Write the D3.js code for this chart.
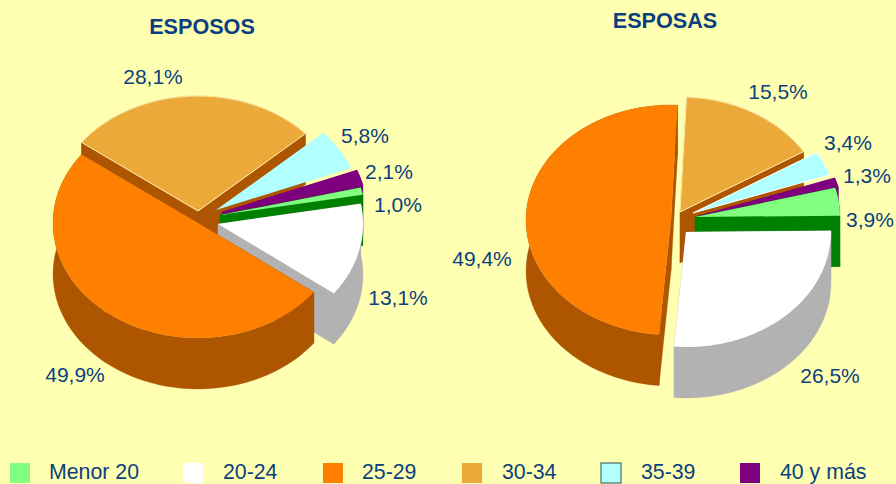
<!DOCTYPE html>
<html>
<head>
<meta charset="utf-8">
<script src="https://cdn.jsdelivr.net/npm/d3@7"></script>
<style>
  html, body { margin: 0; padding: 0; background: #FFFFB2; }
  svg { display: block; }
  text { font-family: "Liberation Sans", Arial, sans-serif; fill: #0B3F7F; }
</style>
</head>
<body>
<svg id="chart"></svg>
<script>
const categories = ['Menor 20', '20-24', '25-29', '30-34', '35-39', '40 y más'];
const esposos = [1.0, 13.1, 49.9, 28.1, 5.8, 2.1];
const esposas = [3.9, 26.5, 49.4, 15.5, 3.4, 1.3];

const topColors = ['#80FF80', '#FFFFFF', '#FF8000', '#EAA938', '#B2FFFF', '#7F007F'];
const wallColors = ['#008000', '#B2B2B2', '#AD5500', '#AD5500', 'none', '#7A007A'];

const svgDim = { w: 896, h: 484 },
  depth = 51,
  $svg = d3.select('#chart');

$svg.attr('width', svgDim.w)
  .attr('height', svgDim.h)
  .attr('viewBox', '0 0 ' + svgDim.w + ' ' + svgDim.h);

$svg.append('rect')
  .attr('width', svgDim.w)
  .attr('height', svgDim.h)
  .attr('fill', '#FFFFB2');

// each slice is pulled out by hand, order is the category order
const pies = [
  {
    title: 'ESPOSOS', titleX: 202, titleY: 34,
    values: esposos,
    cx: 198, cy: 223, rx: 145, ry: 115, start: 76.2,
    shift: [[22, -8], [20, 1], [0, 0], [0, -12], [18, -13], [24, -11]],
    edges: ['none', 'none', 'none', '#FFF0B0', 'none', 'none'],
    labels: [[398, 212], [398, 305], [75, 382], [153, 84], [365, 143], [389, 179]]
  },
  {
    title: 'ESPOSAS', titleX: 665, titleY: 28,
    values: esposas,
    cx: 671, cy: 220, rx: 145, ry: 115, start: 75.3,
    shift: [[24, -3], [15, 12], [0, 0], [9, -8], [22, -7], [27, -4]],
    edges: ['none', 'none', 'none', '#FFF0B0', '#FFFFFF', 'none'],
    labels: [[870, 227], [830, 383], [482, 266], [778, 99], [848, 150], [867, 183]]
  }
];

// back slices first so the front ones hide their walls
const paintOrder = [3, 4, 5, 0, 1, 2];
const polyLine = d3.line().curve(d3.curveLinear);

const drawPie = (pie) => {
  const startAngle = pie.start * Math.PI / 180,
    arcs = d3.pie().sort(null)
      .startAngle(startAngle)
      .endAngle(startAngle + 2 * Math.PI)(pie.values),
    xScale = d3.scaleLinear().domain([-1, 1]).range([pie.cx - pie.rx, pie.cx + pie.rx]),
    yScale = d3.scaleLinear().domain([-1, 1]).range([pie.cy + pie.ry, pie.cy - pie.ry]),
    $g = $svg.append('g');

  paintOrder.forEach((i) => {
    const a = arcs[i],
      dx = pie.shift[i][0],
      dy = pie.shift[i][1],
      steps = d3.range(0, 61).map((s) => a.startAngle + (a.endAngle - a.startAngle) * s / 60),
      rim = steps.map((t) => [xScale(Math.sin(t)) + dx, yScale(Math.cos(t)) + dy]),
      apex = [pie.cx + dx, pie.cy + dy],
      down = (p) => [p[0], p[1] + depth],
      first = rim[0],
      last = rim[rim.length - 1],
      $slice = $g.append('g').attr('class', 'slice');

    const walls = [
      [apex, first, down(first), down(apex)],
      [apex, last, down(last), down(apex)],
      rim.concat(rim.map(down).reverse())
    ];
    if (wallColors[i] != 'none') {
      walls.forEach((w) => {
        $slice.append('path')
          .attr('d', polyLine(w) + 'Z')
          .attr('fill', wallColors[i])
          .attr('stroke', wallColors[i])
          .attr('stroke-width', 0.3);
      });
    }

    $slice.append('path')
      .attr('d', polyLine([apex].concat(rim)) + 'Z')
      .attr('fill', topColors[i])
      .attr('stroke', pie.edges[i])
      .attr('stroke-width', pie.edges[i] == 'none' ? 0 : 1);
  });

  $svg.append('text')
    .text(pie.title)
    .attr('x', pie.titleX)
    .attr('y', pie.titleY)
    .attr('text-anchor', 'middle')
    .attr('font-size', 21.6)
    .attr('font-weight', 'bold');

  pie.values.forEach((v, i) => {
    $svg.append('text')
      .text(v.toFixed(1).replace('.', ',') + '%')
      .attr('x', pie.labels[i][0])
      .attr('y', pie.labels[i][1])
      .attr('text-anchor', 'middle')
      .attr('font-size', 21);
  });
};

pies.forEach(drawPie);

// legend
const legendX = d3.scaleOrdinal().domain(categories).range([10, 183, 323, 462, 601, 740]),
  legendTextX = d3.scaleOrdinal().domain(categories).range([49, 223, 362, 502, 641, 780]),
  $legend = $svg.append('g').attr('class', 'legend');

categories.forEach((c, i) => {
  $legend.append('rect')
    .attr('x', legendX(c))
    .attr('y', 463)
    .attr('width', 20)
    .attr('height', 20)
    .attr('fill', topColors[i])
    .attr('stroke', i == 4 ? '#2F4F4F' : 'none')
    .attr('stroke-width', i == 4 ? 1 : 0);
  $legend.append('text')
    .text(c)
    .attr('x', legendTextX(c))
    .attr('y', 479)
    .attr('font-size', 21.3);
});
</script>
</body>
</html>
